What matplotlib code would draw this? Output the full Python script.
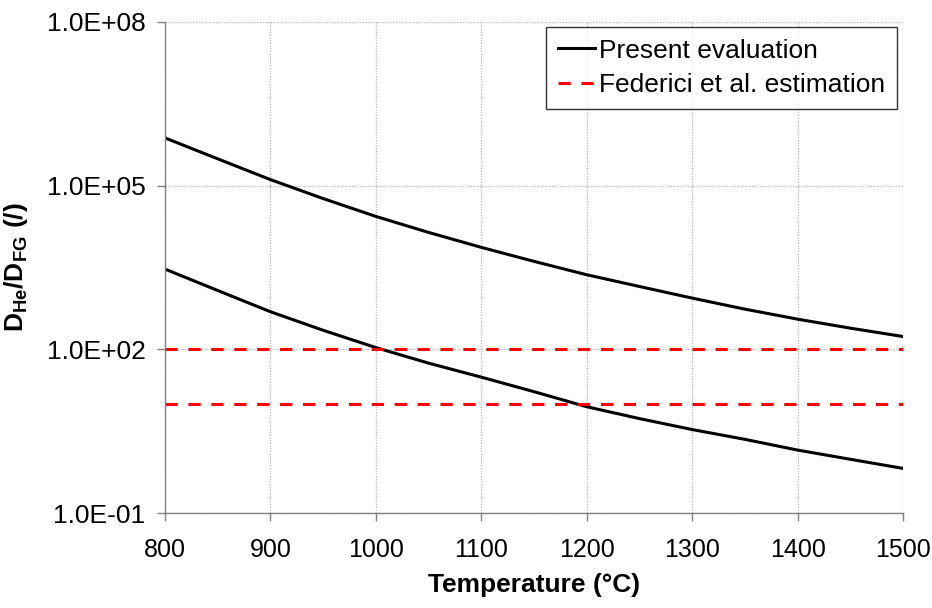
import numpy as np
import matplotlib
matplotlib.use("Agg")
import matplotlib.pyplot as plt
from matplotlib.ticker import FuncFormatter, NullLocator

plt.rcParams['font.family'] = ['Liberation Sans', 'DejaVu Sans']
plt.rcParams['mathtext.fontset'] = 'custom'
plt.rcParams['mathtext.rm'] = 'Liberation Sans'
plt.rcParams['mathtext.bf'] = 'Liberation Sans:bold'

# temperature (°C) and diffusivity ratio
temperature = [800, 850, 900, 950, 1000, 1050, 1100, 1150,
               1200, 1250, 1300, 1350, 1400, 1450, 1500]
ratio_upper = [7.5e5, 3.1e5, 1.29e5, 5.8e4, 2.73e4, 1.39e4, 7.4e3, 4.1e3,
               2.33e3, 1.42e3, 870, 546, 358, 245, 172]
ratio_lower = [2960, 1200, 490, 224, 108, 56, 31, 16.8,
               8.9, 5.4, 3.4, 2.25, 1.43, 0.97, 0.66]
federici = [100, 10]

xticks = [800, 900, 1000, 1100, 1200, 1300, 1400, 1500]
yticks = [1e-1, 1e2, 1e5, 1e8]

fig = plt.figure(figsize=(9.32, 6.08), dpi=100)
ax = fig.add_axes([0.177, 0.156, 0.792, 0.808])

ax.plot(temperature, ratio_upper, color='black', lw=2.2, label='Present evaluation')
ax.plot(temperature, ratio_lower, color='black', lw=2.2)
for i, f in enumerate(federici):
    ax.plot([temperature[0], temperature[-1]], [f, f], color='#ff0000', lw=2.2,
            linestyle=(0, (4, 3.5)),
            label='Federici et al. estimation' if i == 0 else None)

ax.set_yscale('log')
ax.set_xlim(800, 1500)
ax.set_ylim(1e-1, 1e8)
ax.set_xticks(xticks)
ax.set_yticks(yticks)
ax.yaxis.set_minor_locator(NullLocator())
ax.yaxis.set_major_formatter(FuncFormatter(lambda v, p: f'{v:.1E}'))

ax.grid(True, which='major', color='#c0c0c0', linestyle=(0, (1, 1)), lw=1)
ax.set_axisbelow(True)
for s in ['top', 'right']:
    ax.spines[s].set_visible(False)
for s in ['left', 'bottom']:
    ax.spines[s].set_color('#808080')
    ax.spines[s].set_linewidth(1)
ax.tick_params(axis='both', colors='#808080', length=6, width=1, labelcolor='black')
ax.tick_params(axis='y', labelsize=19, pad=8)
ax.tick_params(axis='x', labelsize=18, pad=12)

ax.set_xlabel('Temperature (°C)', fontsize=19, fontweight='bold', labelpad=8)
ax.set_ylabel(r'D$_{\mathbf{He}}$/D$_{\mathbf{FG}}$ (/)', fontsize=19,
              fontweight='bold', labelpad=12)

leg = ax.legend(loc='upper right', bbox_to_anchor=(0.992, 0.990), fontsize=19,
                frameon=True, fancybox=False, handlelength=1.4, handletextpad=0.15,
                borderpad=0.45, labelspacing=0.4, borderaxespad=0)
leg.get_frame().set_edgecolor('black')
leg.get_frame().set_linewidth(1)

fig.savefig('out.png', dpi=100)
